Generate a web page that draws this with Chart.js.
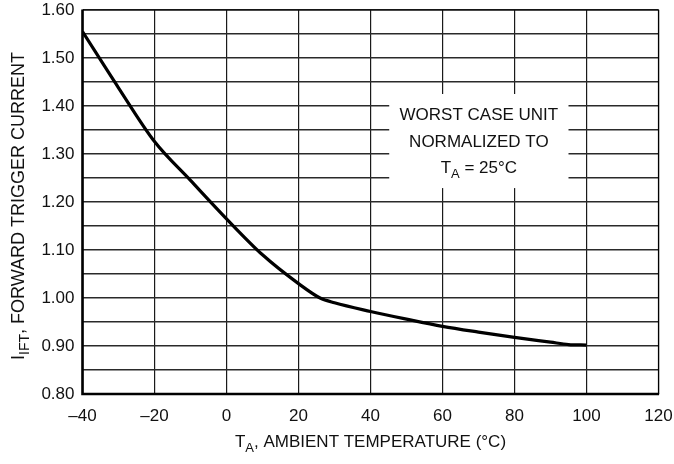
<!DOCTYPE html>
<html><head><meta charset="utf-8">
<script src="https://cdn.jsdelivr.net/npm/chart.js@4/dist/chart.umd.min.js"></script>
<style>html,body{margin:0;padding:0;background:#fff}#wrap{width:674px;height:464px}</style>
</head><body><div id="wrap"><canvas id="c" width="674" height="464"></canvas></div>
<script>
const temps = [-40, -30, -20, -10, 0, 10, 20, 26, 30, 40, 50, 60, 70, 80, 90, 95, 100];
const current = [1.555, 1.438, 1.326, 1.245, 1.165, 1.090, 1.030, 1.000, 0.990, 0.972, 0.956, 0.941, 0.929, 0.918, 0.908, 0.903, 0.902];
const xTicks = [-40, -20, 0, 20, 40, 60, 80, 100, 120];
const yLabels = ['0.80','0.90','1.00','1.10','1.20','1.30','1.40','1.50','1.60'];
const noteLines = ['WORST CASE UNIT', 'NORMALIZED TO'];

const FONT = "'Liberation Sans', Arial, sans-serif";

function drawSubText(ctx, parts, x, y, align, big, small) {
  big = big || 17; small = small || 13;
  let total = 0;
  const widths = parts.map(p => { ctx.font = (p[1] ? small : big) + 'px ' + FONT; const w = ctx.measureText(p[0]).width; total += w; return w; });
  let cx = align === 'center' ? x - total / 2 : x;
  ctx.textAlign = 'left';
  ctx.textBaseline = 'alphabetic';
  parts.forEach((p, i) => {
    ctx.font = (p[1] ? small : big) + 'px ' + FONT;
    ctx.fillText(p[0], cx, y + (p[1] ? 5 : 0));
    cx += widths[i];
  });
}

const overlay = {
  id: 'overlay',
  beforeDatasetsDraw(chart) {
    const ctx = chart.ctx, xs = chart.scales.x, ys = chart.scales.y;
    ctx.save();
    const x1 = xs.getPixelForValue(45.2), x2 = xs.getPixelForValue(95.0);
    const y1 = ys.getPixelForValue(1.425), y2 = ys.getPixelForValue(1.229);
    ctx.fillStyle = '#fff';
    ctx.fillRect(x1, y1, x2 - x1, y2 - y1);
    ctx.fillStyle = '#111';
    const cx = (x1 + x2) / 2;
    ctx.font = '17px ' + FONT; ctx.textAlign = 'center'; ctx.textBaseline = 'alphabetic';
    ctx.fillText(noteLines[0], cx, y1 + 26);
    ctx.fillText(noteLines[1], cx, y1 + 52.5);
    drawSubText(ctx, [['T', false], ['A', true], [' = 25°C', false]], cx, y1 + 78.5, 'center');
    ctx.restore();
  },
  afterDraw(chart) {
    const ctx = chart.ctx, a = chart.chartArea;
    ctx.save();
    ctx.fillStyle = '#111';
    drawSubText(ctx, [['T', false], ['A', true], [', AMBIENT TEMPERATURE (°C)', false]], (a.left + a.right) / 2, 447, 'center');
    ctx.translate(24, (a.top + a.bottom) / 2 + 4);
    ctx.rotate(-Math.PI / 2);
    drawSubText(ctx, [['I', false], ['IFT', true], [', FORWARD TRIGGER CURRENT', false]], 0, 0, 'center', 18, 14);
    ctx.restore();
    ctx.save();
    ctx.strokeStyle = '#000';
    ctx.lineWidth = 1.2;
    ctx.beginPath();
    ctx.moveTo(a.left, a.top); ctx.lineTo(a.right, a.top); ctx.lineTo(a.right, a.bottom);
    ctx.stroke();
    ctx.lineWidth = 2.6;
    ctx.beginPath();
    ctx.moveTo(a.left, a.top - 0.6); ctx.lineTo(a.left, a.bottom); ctx.lineTo(a.right + 0.6, a.bottom);
    ctx.stroke();
    ctx.restore();
  }
};

new Chart(document.getElementById('c'), {
  type: 'line',
  data: {
    datasets: [{
      data: temps.map((t, i) => ({ x: t, y: current[i] })),
      borderColor: '#000',
      borderWidth: 3.2,
      pointRadius: 0,
      cubicInterpolationMode: 'monotone',
      fill: false
    }]
  },
  options: {
    responsive: false,
    animation: false,
    devicePixelRatio: 1,
    layout: { padding: { top: 10, right: 15.5, left: 0, bottom: 0 } },
    plugins: { legend: { display: false }, tooltip: { enabled: false } },
    scales: {
      x: {
        type: 'linear', min: -40, max: 120,
        afterBuildTicks: s => { s.ticks = xTicks.map(v => ({ value: v })); },
        ticks: { color: '#111', font: { size: 17, family: FONT }, padding: 12, maxRotation: 0,
          callback: v => String(v).replace('-', '\u2013') },
        grid: { color: '#1a1a1a', lineWidth: 1.2, drawTicks: false },
        border: { display: false },
        afterFit: s => { s.height = 70; s.paddingLeft = 0; s.paddingRight = 0; }
      },
      y: {
        type: 'linear', min: 0.80, max: 1.60,
        ticks: { stepSize: 0.05, color: '#111', font: { size: 17, family: FONT }, padding: 8, autoSkip: false,
          callback: v => { const k = Math.round(v * 100); return k % 10 === 0 ? yLabels[(k - 80) / 10] : ''; } },
        grid: { color: '#2a2a2a', lineWidth: 1.4, drawTicks: false },
        border: { display: false },
        afterFit: s => { s.width = 82.5; s.paddingTop = 0; s.paddingBottom = 0; }
      }
    }
  },
  plugins: [overlay]
});
</script>
</body></html>
